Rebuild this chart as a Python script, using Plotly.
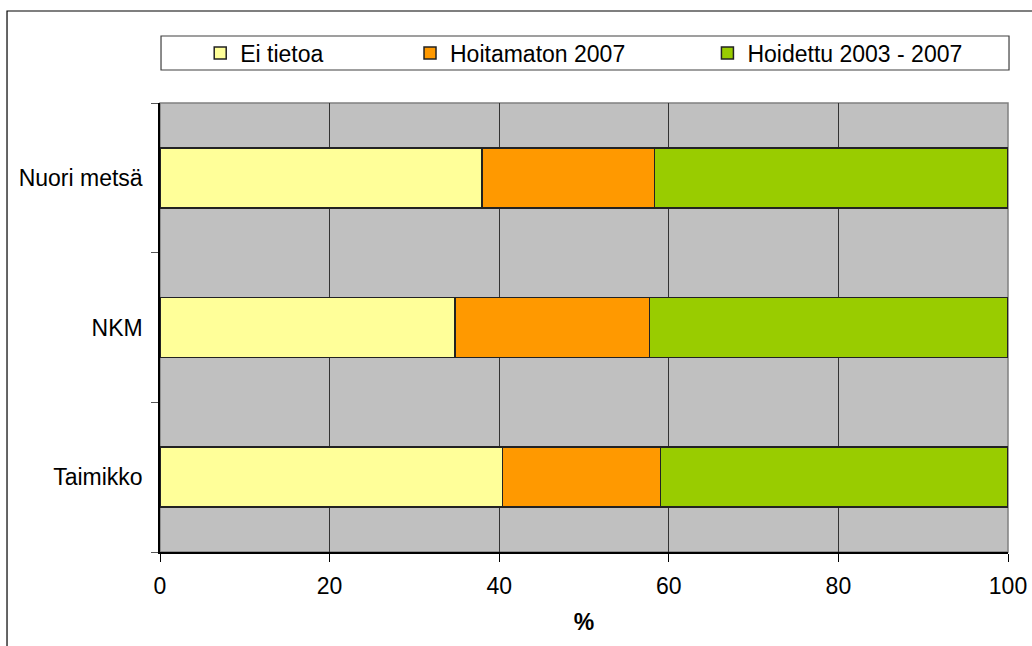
import plotly.graph_objects as go

categorias = ["Taimikko", "NKM", "Nuori metsä"]
ei_tietoa = [40.4, 34.8, 38.0]
hoitamaton = [18.6, 22.9, 20.3]
hoidettu = [41.0, 42.3, 41.7]

series = [
    ("Ei tietoa", ei_tietoa, "#FFFF99", "legend"),
    ("Hoitamaton 2007", hoitamaton, "#FF9900", "legend2"),
    ("Hoidettu 2003 - 2007", hoidettu, "#99CC00", "legend3"),
]

fonte = dict(family="Liberation Sans, Arial, sans-serif", size=23, color="black")

fig = go.Figure()
for nome, valores, cor, leg in series:
    fig.add_trace(go.Bar(
        y=categorias, x=valores, name=nome, orientation="h",
        marker=dict(color=cor, line=dict(color="#222222", width=1.5)),
        legend=leg, showlegend=True,
    ))

def legenda(x):
    # posicao em coordenadas do container para nao mexer nas margens
    return dict(x=x, y=0.918, xref="container", yref="container",
                xanchor="left", yanchor="middle",
                orientation="h", bgcolor="rgba(0,0,0,0)", font=fonte)

fig.update_layout(
    width=1032, height=646,
    margin=dict(l=160, r=24, t=103, b=94, autoexpand=False),
    barmode="stack", bargap=0.6,
    plot_bgcolor="#C0C0C0", paper_bgcolor="white",
    font=fonte, showlegend=True,
    legend=legenda(0.1940),
    legend2=legenda(0.3973),
    legend3=legenda(0.6855),
    xaxis=dict(
        range=[0, 100], dtick=20, showgrid=True, gridcolor="#333333", gridwidth=1,
        zeroline=False, showline=True, linecolor="black", linewidth=1.5,
        ticks="outside", ticklen=8, tickcolor="black", ticklabelstandoff=5,
        automargin=False,
        title=dict(text="<b>%</b>", standoff=16, font=fonte),
    ),
    yaxis=dict(
        showgrid=False, zeroline=False, showline=True, linecolor="black", linewidth=1.5,
        ticks="outside", tickson="boundaries", ticklen=7, tickcolor="#555555",
        ticklabelstandoff=11, automargin=False,
    ),
    shapes=[
        # borda da area do grafico
        dict(type="rect", xref="paper", yref="paper", x0=0, x1=1, y0=0, y1=1,
             line=dict(color="#808080", width=1.5), layer="between"),
        # caixa da legenda
        dict(type="rect", xref="paper", yref="paper", x0=0.0012, x1=1.0012,
             y0=1.0735, y1=1.1492, line=dict(color="#404040", width=1.2)),
        # borda externa
        dict(type="rect", xref="paper", yref="paper", x0=-0.1804, x1=1.05,
             y0=-0.26, y1=1.2049, line=dict(color="black", width=1.2)),
    ],
)

# tira a margem padrao do body para a figura ficar no canto
fig.write_html("out.html", config={"displayModeBar": False},
               post_script="document.body.style.margin='0';")
